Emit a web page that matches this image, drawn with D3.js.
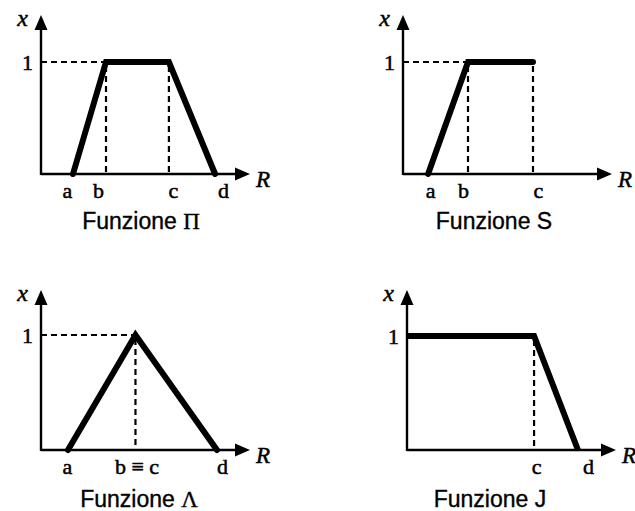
<!DOCTYPE html>
<html lang="it">
<head>
<meta charset="utf-8">
<style>
    body { margin: 0; background: #fff; }
    .serif { font-family: "Liberation Serif", "DejaVu Serif", serif; }
    .serif text, text.serif { stroke: #000; stroke-width: 0.5px; }
    .title { font-family: "Liberation Sans", Arial, sans-serif; font-size: 23px; stroke: #000; stroke-width: 0.35px; }
</style>
<script src="https://d3js.org/d3.v7.min.js"></script>
</head>
<body>
<script>

// membership functions, one entry per panel
var names = ["Funzione ", "Funzione ", "Funzione ", "Funzione "];
var greek = ["\u03A0", "S", "\u039B", "J"];
var tickNames = [["a", "b", "c", "d"], ["a", "b", "c"], ["a", "b \u2261 c", "d"], ["c", "d"]];
var tickValues = [[1.53, 3.11, 6.12, 8.33], [1.20, 3.11, 6.22], [1.29, 4.52, 8.42], [6.08, 8.18]];
var curveX = [[1.53, 3.11, 6.12, 8.33], [1.20, 3.11, 6.22], [1.29, 4.52, 8.42], [0, 6.08, 8.18]];
var curveY = [[0, 1, 1, 0], [0, 1, 1], [0, 1, 0], [1, 1, 0]];

// where each panel sits on the page
var layout = [
    {ox: 41,  oy: 174, h: 112, top: 159, titleX: 141, titleY: 55, shift: [-6, -8, 4, 8]},
    {ox: 403, oy: 174, h: 112, top: 159, titleX: 494, titleY: 55, shift: [2, -5, 5]},
    {ox: 41,  oy: 450, h: 115, top: 160, titleX: 139, titleY: 57, shift: [-1, 1, 5]},
    {ox: 407, oy: 450, h: 114, top: 160, titleX: 490, titleY: 57, shift: [2, 10]}
];
var axisLen = 209, arrowLen = 15, arrowHalf = 6.5;

var svg = d3.select("body").append("svg")
    .attr("width", 635)
    .attr("height", 511);

layout.forEach(function(L, i) {
    var g = svg.append("g").attr("transform", "translate(" + L.ox + "," + L.oy + ")");

    var x = d3.scaleLinear().domain([0, 10]).range([0, axisLen]);
    var y = d3.scaleLinear().domain([0, 1]).range([0, -L.h]);

    var pts = curveX[i].map(function(v, k) { return [v, curveY[i][k]]; });

    // dashed guides
    var ones = pts.filter(function(p) { return p[1] === 1; });
    if (ones[0][0] > 0) {
        g.append("line")
            .attr("x1", x(0)).attr("x2", x(ones[0][0]))
            .attr("y1", y(1)).attr("y2", y(1))
            .attr("stroke", "#000").attr("stroke-width", 2.2)
            .attr("stroke-dasharray", "6,4");
    }
    ones.filter(function(p) { return p[0] > 0; }).forEach(function(p) {
        g.append("line")
            .attr("x1", x(p[0])).attr("x2", x(p[0]))
            .attr("y1", y(1) + 4).attr("y2", y(0))
            .attr("stroke", "#000").attr("stroke-width", 2.2)
            .attr("stroke-dasharray", "6,4");
    });

    // axes with arrows
    g.append("line")
        .attr("x1", 0).attr("x2", axisLen - arrowLen + 1)
        .attr("y1", 0).attr("y2", 0)
        .attr("stroke", "#000").attr("stroke-width", 2.4);
    g.append("path")
        .attr("d", "M" + axisLen + ",0L" + (axisLen - arrowLen) + "," + (-arrowHalf) +
            "L" + (axisLen - arrowLen) + "," + arrowHalf + "Z")
        .attr("fill", "#000");
    g.append("line")
        .attr("x1", 0).attr("x2", 0)
        .attr("y1", 1).attr("y2", -L.top + arrowLen - 1)
        .attr("stroke", "#000").attr("stroke-width", 2.4);
    g.append("path")
        .attr("d", "M0," + (-L.top) + "L" + (-arrowHalf) + "," + (-L.top + arrowLen) +
            "L" + arrowHalf + "," + (-L.top + arrowLen) + "Z")
        .attr("fill", "#000");

    // the function itself
    g.append("path")
        .datum(pts)
        .attr("d", d3.line().x(function(p) { return x(p[0]); }).y(function(p) { return y(p[1]); }))
        .attr("fill", "none")
        .attr("stroke", "#000")
        .attr("stroke-width", 6)
        .attr("stroke-linejoin", "miter")
        .attr("stroke-linecap", i === 3 ? "butt" : "round");

    // tick labels on R
    var xa = g.append("g")
        .attr("class", "serif")
        .call(d3.axisBottom(x)
            .tickValues(tickValues[i])
            .tickFormat(function(d, k) { return tickNames[i][k]; })
            .tickSize(0));
    xa.select(".domain").remove();
    xa.selectAll("text")
        .attr("y", 24).attr("dy", 0)
        .attr("dx", function(d, k) { return L.shift[k]; })
        .attr("font-size", 22)
        .attr("fill", "#000");
    xa.attr("font-family", null).attr("font-size", null);

    // the "1" level
    var ya = g.append("g")
        .attr("class", "serif")
        .call(d3.axisLeft(y).tickValues([1]).tickFormat(d3.format("d")).tickSize(0).tickPadding(8));
    ya.select(".domain").remove();
    ya.selectAll("text").attr("font-size", 22).attr("fill", "#000");
    ya.attr("font-family", null).attr("font-size", null);

    // axis names
    g.append("text")
        .attr("class", "serif")
        .attr("x", -13).attr("y", -L.top + 11)
        .attr("text-anchor", "end")
        .attr("font-size", 24)
        .attr("font-style", "italic")
        .text("x");
    g.append("text")
        .attr("class", "serif")
        .attr("x", axisLen + 6).attr("y", 13)
        .attr("font-size", 23)
        .attr("font-style", "italic")
        .text("R");

    // panel title
    var t = svg.append("text")
        .attr("class", "title")
        .attr("x", L.titleX).attr("y", L.oy + L.titleY)
        .attr("text-anchor", "middle");
    t.append("tspan").text(names[i]);
    t.append("tspan")
        .attr("font-family", i === 0 || i === 2 ? "Liberation Serif, serif" : null)
        .text(greek[i]);
});
</script>
</body>
</html>
